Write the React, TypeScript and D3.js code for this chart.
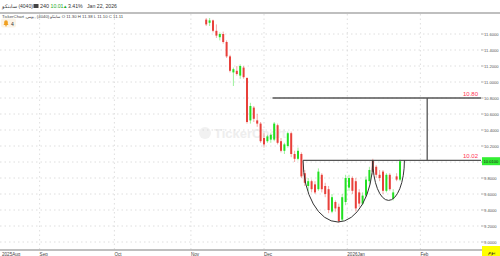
import React from "react";
import * as d3 from "d3";

// ---- data ----
const firstIndex = 49; // trading-day index of first candle (Sep 1 = 0)
const opens = [11.78, 11.74, 11.77, 11.64, 11.56, 11.60, 11.50, 11.32, 11.12, 11.14, 11.08, 11.18, 11.05, 10.52, 10.68, 10.52, 10.48, 10.30, 10.26, 10.28, 10.28, 10.46, 10.26, 10.14, 10.20, 10.36, 10.10, 10.04, 10.10, 9.86, 9.70, 9.76, 9.72, 9.66, 9.84, 9.70, 9.66, 9.38, 9.50, 9.44, 9.28, 9.50, 9.68, 9.80, 9.76, 9.62, 9.48, 9.58, 9.76, 10.02, 9.94, 9.84, 9.88, 9.64, 9.84, 9.54, 9.82, 9.78];
const highs = [11.80, 11.80, 11.78, 11.72, 11.62, 11.63, 11.52, 11.34, 11.18, 11.20, 11.22, 11.20, 11.06, 10.74, 10.70, 10.60, 10.50, 10.36, 10.34, 10.36, 10.50, 10.48, 10.30, 10.24, 10.38, 10.38, 10.14, 10.18, 10.12, 9.90, 9.80, 9.78, 9.76, 9.92, 9.86, 9.74, 9.70, 9.60, 9.52, 9.48, 9.60, 9.84, 9.84, 9.82, 9.80, 9.66, 9.62, 9.82, 9.94, 10.04, 9.96, 9.90, 9.90, 9.86, 9.86, 9.66, 9.86, 10.03];
const lows = [11.70, 11.70, 11.62, 11.55, 11.52, 11.48, 11.30, 11.12, 10.95, 11.08, 11.04, 11.04, 10.48, 10.48, 10.50, 10.44, 10.24, 10.18, 10.24, 10.24, 10.26, 10.22, 10.12, 10.10, 10.18, 10.06, 10.00, 10.02, 9.80, 9.70, 9.64, 9.62, 9.60, 9.64, 9.62, 9.56, 9.36, 9.36, 9.38, 9.24, 9.26, 9.46, 9.64, 9.60, 9.38, 9.44, 9.46, 9.56, 9.72, 9.84, 9.80, 9.76, 9.60, 9.62, 9.64, 9.52, 9.76, 9.76];
const closes = [11.72, 11.77, 11.64, 11.58, 11.60, 11.50, 11.32, 11.14, 11.16, 11.10, 11.20, 11.06, 10.50, 10.70, 10.54, 10.48, 10.26, 10.22, 10.32, 10.34, 10.48, 10.24, 10.14, 10.22, 10.36, 10.10, 10.04, 10.14, 9.82, 9.74, 9.76, 9.66, 9.62, 9.88, 9.66, 9.60, 9.40, 9.56, 9.42, 9.26, 9.56, 9.80, 9.80, 9.64, 9.42, 9.48, 9.58, 9.78, 9.90, 9.88, 9.84, 9.80, 9.64, 9.84, 9.66, 9.62, 9.78, 10.01];

const monthLabels = ["Sep", "Oct", "Nov", "Dec", "2026Jan", "Feb"];
const monthIndex = [0, 22, 44.5, 66, 90.5, 112];
const firstAxisLabel = "2025Aug";

const yTicks = [9.0, 9.2, 9.4, 9.6, 9.8, 10.0, 10.2, 10.4, 10.6, 10.8, 11.0, 11.2, 11.4, 11.6];

const targetPrice = 10.80;
const necklinePrice = 10.02;
const targetStart = 68.5;
const necklineStart = 77.5;
const measureIndex = 114;
const cupStart = 77.5, cupEnd = 98, cupBottom = 9.25;
const handleStart = 98, handleEnd = 107.3, handleBottom = 9.52;
const lastPrice = 10.01;

const FONT = "Liberation Sans, Arial, sans-serif";
const RED = "#e8403a";
const GREEN = "#22e022";

export default function App() {
  const W = 500, H = 256;
  const plotRight = 481;
  const x = d3.scaleLinear().domain([0, 112]).range([39.6, 420.4]);
  const y = d3.scaleLinear().domain([9.0, 11.6]).range([242, 34]);

  const candles = opens.map((o, i) => ({ t: firstIndex + i, o, h: highs[i], l: lows[i], c: closes[i] }));

  const arc = (s: number, e: number, bottom: number, level: number) => {
    const x1 = x(s), x2 = x(e), yy = y(level);
    const rx = (x2 - x1) / 2, ry = y(bottom) - yy;
    return `M${x1},${yy} A${rx},${ry} 0 0 0 ${x2},${yy}`;
  };

  return (
    <svg width={W} height={H} style={{ position: "absolute", left: 0, top: 0, background: "#fff" }} fontFamily={FONT}>
      {/* header */}
      <text x={2} y={8} fontSize={5} fill="#333">{"سابتكو\u200E (4040)"}</text>
      <rect x={33.5} y={4} width={5} height={4} fill="#444" />
      <text x={40} y={8} fontSize={5.5} fill="#333">240</text>
      <text x={50.5} y={8} fontSize={5.2} fill="#1faa1f">10.01</text>
      <text x={63} y={8} fontSize={4.5} fill="#1faa1f">▲</text>
      <text x={68} y={8} fontSize={5.2} fill="#333">3.41%</text>
      <text x={87} y={8} fontSize={5.2} fill="#333">Jan 22, 2026</text>
      <line x1={0} x2={W} y1={13} y2={13} stroke="#aaa" strokeWidth={1.5} />
      <text x={2} y={17.5} fontSize={4.3} fill="#444">TickerChart ,سابتكو (4040) ,يومي  O 11.30  H 11.38  L 11.10  C 11.11</text>
      <rect x={1} y={18.5} width={15} height={9} rx={2} fill="#fbf3e6" />
      <path d="M3.5,25 L8.5,25 L7.8,23.8 L7.8,22 A1.8,1.8 0 0 0 4.2,22 L4.2,23.8 Z" fill="#f0a020" />
      <circle cx={6} cy={25.8} r={0.8} fill="#f0a020" />
      <text x={11} y={25.5} fontSize={5} fill="#333">4</text>

      {/* watermark */}
      <circle cx={205} cy={133} r={6} fill="#f1f1f1" />
      <text x={214} y={138} fontSize={13} fontWeight="bold" fill="#eeeeee">TickerChart</text>

      {/* grid */}
      {yTicks.map((v) => (
        <line key={"gy" + v} x1={0} x2={plotRight} y1={y(v)} y2={y(v)} stroke="#d6d6d6" strokeWidth={0.8} strokeDasharray="1.5,3" />
      ))}
      {monthIndex.map((m, i) => (
        <line key={"gx" + i} x1={x(m)} x2={x(m)} y1={14} y2={250} stroke="#d6d6d6" strokeWidth={0.8} strokeDasharray="1.5,3" />
      ))}

      {/* y axis labels */}
      {yTicks.map((v) => (
        <g key={"yt" + v}>
          <line x1={481} x2={483.5} y1={y(v)} y2={y(v)} stroke="#777" strokeWidth={0.6} />
          <text x={484} y={y(v) + 1.5} fontSize={4.1} fill="#555">{v.toFixed(4)}</text>
        </g>
      ))}

      {/* x axis */}
      <line x1={0} x2={482} y1={250} y2={250} stroke="#aaa" strokeWidth={1.5} />
      <text x={2} y={255.5} fontSize={4.6} fill="#444">{firstAxisLabel}</text>
      {monthLabels.map((m, i) => (
        <text key={"xl" + m} x={x(monthIndex[i])} y={255.5} fontSize={4.6} fill="#444">{m}</text>
      ))}

      {/* candles */}
      {candles.map((d) => {
        const up = d.c >= d.o;
        const col = up ? GREEN : RED;
        const cx = x(d.t);
        const top = y(Math.max(d.o, d.c));
        const bot = y(Math.min(d.o, d.c));
        return (
          <g key={"c" + d.t}>
            <line x1={cx} x2={cx} y1={y(d.h)} y2={y(d.l)} stroke={col} strokeOpacity={0.45} strokeWidth={1} />
            <rect x={cx - 1} y={top} width={2} height={Math.max(1, bot - top)} fill={col} />
          </g>
        );
      })}

      {/* pattern */}
      <line x1={x(targetStart)} x2={plotRight} y1={y(targetPrice)} y2={y(targetPrice)} stroke="#555" strokeWidth={1.3} />
      <line x1={x(necklineStart)} x2={plotRight} y1={y(necklinePrice)} y2={y(necklinePrice)} stroke="#555" strokeWidth={1.3} />
      <line x1={x(measureIndex)} x2={x(measureIndex)} y1={y(targetPrice)} y2={y(necklinePrice)} stroke="#555" strokeWidth={1.3} />
      <path d={arc(cupStart, cupEnd, cupBottom, necklinePrice)} fill="none" stroke="#333" strokeWidth={1} />
      <path d={arc(handleStart, handleEnd, handleBottom, necklinePrice)} fill="none" stroke="#333" strokeWidth={1} />
      <text x={478} y={y(targetPrice) - 2} fontSize={6} textAnchor="end" fill="#ff3355">{targetPrice.toFixed(2)}</text>
      <text x={478} y={y(necklinePrice) - 2} fontSize={6} textAnchor="end" fill="#ff3355">{necklinePrice.toFixed(2)}</text>

      {/* last price label */}
      <rect x={482} y={y(lastPrice) - 4} width={18} height={8} fill="#33ee33" />
      <text x={483.5} y={y(lastPrice) + 1.5} fontSize={4.1} fill="#222">{lastPrice.toFixed(4)}</text>

      {/* interval box */}
      <rect x={482} y={246} width={18} height={10} fill="#ffff00" />
      <text x={491} y={253.5} fontSize={5} textAnchor="middle" fill="#222">يوم</text>
    </svg>
  );
}
